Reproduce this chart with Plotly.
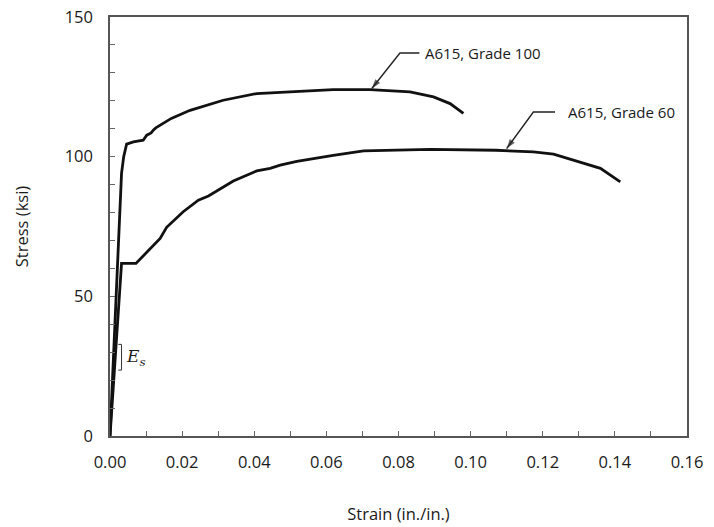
import plotly.graph_objects as go

# Grade 100 curve (strain in./in., stress ksi)
g100_strain = [0, 0.0026, 0.0032, 0.0038, 0.0046, 0.0065, 0.0092, 0.0102, 0.0114, 0.0120,
               0.0127, 0.0170, 0.0222, 0.0314, 0.0407, 0.0499, 0.0560, 0.0619, 0.0721,
               0.0832, 0.0897, 0.0943, 0.0980]
g100_stress = [0, 80.9, 94.0, 100.0, 104.5, 105.3, 105.9, 107.7, 108.5, 109.5,
               110.3, 113.7, 116.6, 120.2, 122.6, 123.2, 123.6, 124.0, 124.0,
               123.2, 121.4, 119.0, 115.5]

# Grade 60 curve
g60_strain = [0, 0.0032, 0.0072, 0.0139, 0.0157, 0.0203, 0.0245, 0.0273, 0.0342, 0.0407,
              0.0444, 0.0472, 0.0518, 0.0583, 0.0619, 0.0703, 0.0888, 0.1070, 0.1174,
              0.1230, 0.1313, 0.1360, 0.1415]
g60_stress = [0, 61.8, 61.8, 70.7, 74.7, 80.3, 84.4, 85.9, 91.3, 94.9,
              95.8, 97.0, 98.3, 99.8, 100.5, 102.1, 102.6, 102.3, 101.7,
              100.9, 97.6, 95.8, 91.0]

x_ticks = [0.00, 0.02, 0.04, 0.06, 0.08, 0.10, 0.12, 0.14, 0.16]
y_ticks = [0, 50, 100, 150]

labels = ["A615, Grade 100", "A615, Grade 60"]
label_tip = [(0.0726, 124.4), (0.1100, 102.9)]
label_bend = [(0.0804, 137.1), (0.1174, 116.0)]
label_end = [(0.0858, 137.1), (0.1234, 116.0)]
label_text_x = [0.0868, 0.1264]

FONT = "Open Sans"
TXT = "#1a1a1a"

fig = go.Figure()
fig.add_trace(go.Scatter(x=g100_strain, y=g100_stress, mode="lines",
                         line=dict(color="#111", width=2.8), showlegend=False))
fig.add_trace(go.Scatter(x=g60_strain, y=g60_stress, mode="lines",
                         line=dict(color="#111", width=2.8), showlegend=False))

for lab, tip, bend, end, tx in zip(labels, label_tip, label_bend, label_end, label_text_x):
    # leader: horizontal stub, then diagonal ending in an arrowhead at the curve
    fig.add_trace(go.Scatter(x=[end[0], bend[0], tip[0]], y=[end[1], bend[1], tip[1]],
                             mode="lines+markers", showlegend=False, hoverinfo="skip",
                             line=dict(color="#222", width=1.4),
                             marker=dict(symbol="arrow", size=[0, 0, 10], angleref="previous",
                                         color="#222", line=dict(width=0))))
    fig.add_annotation(x=tx, y=end[1], xref="x", yref="y", text=lab, showarrow=False,
                       xanchor="left", yanchor="middle",
                       font=dict(family=FONT, size=15, color=TXT))

# E_s bracket
es_x = [0.0023, 0.0032, 0.0032, 0.0023]
es_y = [32.8, 32.8, 23.6, 23.6]
fig.add_trace(go.Scatter(x=es_x, y=es_y, mode="lines", line=dict(color="#333", width=1),
                         showlegend=False, hoverinfo="skip"))
fig.add_annotation(x=0.0038, y=28.2, xref="x", yref="y", text="<i>E</i><sub><i>s</i></sub>",
                   showarrow=False, xanchor="left", yanchor="middle",
                   font=dict(family="DejaVu Serif", size=17, color=TXT))

axis_common = dict(showline=True, mirror=True, linecolor="#555", linewidth=1.5,
                   showgrid=False, zeroline=False, ticks="inside", ticklen=5,
                   tickcolor="#666", tickwidth=1, ticklabeloverflow="allow",
                   tickfont=dict(family=FONT, size=16.5, color=TXT))

fig.update_xaxes(range=[0, 0.16], tickvals=x_ticks, tickformat=".2f",
                 minor=dict(dtick=0.01, ticks="inside", ticklen=5, tickcolor="#666"),
                 ticklabelstandoff=10,
                 title=dict(text="Strain (in./in.)", standoff=37,
                            font=dict(family=FONT, size=16.5, color=TXT)),
                 **axis_common)
fig.update_yaxes(range=[0, 150], tickvals=y_ticks,
                 minor=dict(dtick=10, ticks="inside", ticklen=5, tickcolor="#666"),
                 ticklabelstandoff=12,
                 title=dict(text="Stress (ksi)", standoff=32,
                            font=dict(family=FONT, size=16.5, color=TXT)),
                 **axis_common)

fig.update_layout(width=714, height=527, plot_bgcolor="white", paper_bgcolor="white",
                  margin=dict(l=110, r=27, t=17, b=91, autoexpand=False))

# remove the browser's default 8px body margin so the figure fills the window exactly
fig.write_html("out.html", config={"displayModeBar": False},
               post_script="document.body.style.margin='0';document.body.style.overflow='hidden';")
